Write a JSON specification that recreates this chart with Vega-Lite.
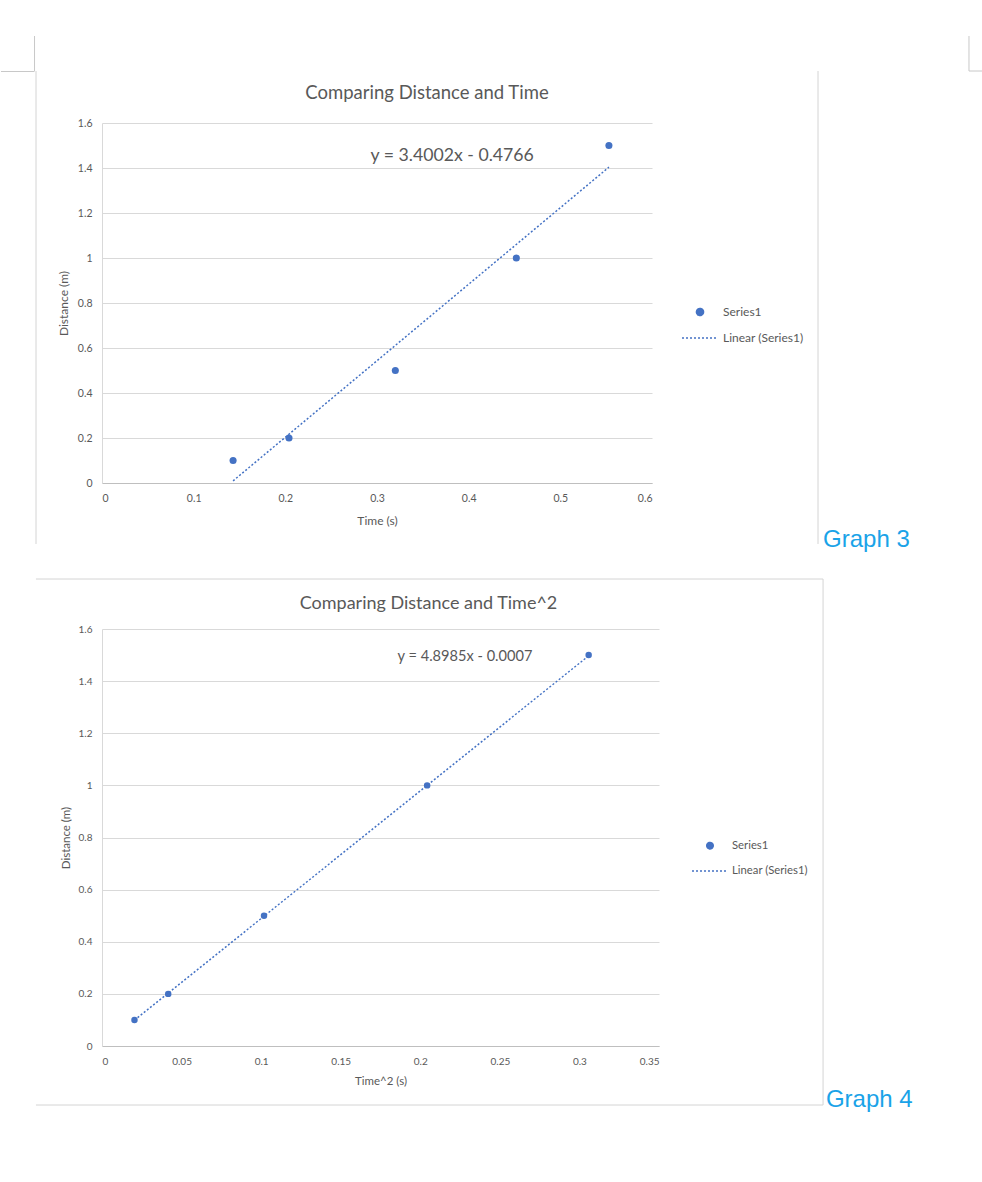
{
  "$schema": "https://vega.github.io/schema/vega-lite/v6.json",
  "padding": {"left": 0, "top": 35, "right": 0, "bottom": 0},
  "background": "white",
  "spacing": 26,
  "config": {
    "font": "Lato",
    "view": {"stroke": null},
    "axis": {
      "labelColor": "#595959", "labelFontSize": 10.5, "labelFont": "Lato",
      "titleColor": "#595959", "titleFontSize": 12, "titleFontWeight": "normal", "titleFont": "Lato",
      "ticks": false, "domainColor": "#d9d9d9", "gridColor": "#d9d9d9", "labelPadding": 10
    },
    "axisX": {"grid": false, "domainColor": "#bfbfbf", "titlePadding": 9},
    "axisY": {"grid": true, "titlePadding": 7},
    "legend": {"symbolOpacity": 1, "symbolStrokeWidth": 1.5, "labelColor": "#595959", "labelFont": "Lato"},
    "title": {"font": "Lato", "fontSize": 18.5, "fontWeight": "normal", "color": "#595959", "anchor": "middle"}
  },
  "datasets": {
    "g3": [
      {"t": 0.143, "d": 0.1, "series": "Series1"},
      {"t": 0.204, "d": 0.2, "series": "Series1"},
      {"t": 0.32, "d": 0.5, "series": "Series1"},
      {"t": 0.452, "d": 1.0, "series": "Series1"},
      {"t": 0.553, "d": 1.5, "series": "Series1"}
    ],
    "g3fit": [
      {"t": 0.143, "d": 0.0096, "series": "Linear (Series1)"},
      {"t": 0.553, "d": 1.4037, "series": "Linear (Series1)"}
    ],
    "g4": [
      {"t2": 0.0204, "d": 0.1, "series": "Series1"},
      {"t2": 0.0416, "d": 0.2, "series": "Series1"},
      {"t2": 0.1018, "d": 0.5, "series": "Series1"},
      {"t2": 0.2043, "d": 1.0, "series": "Series1"},
      {"t2": 0.3058, "d": 1.5, "series": "Series1"}
    ],
    "g4fit": [
      {"t2": 0.0204, "d": 0.0992, "series": "Linear (Series1)"},
      {"t2": 0.3058, "d": 1.4972, "series": "Linear (Series1)"}
    ]
  },
  "resolve": {
    "scale": {"color": "independent", "shape": "independent", "size": "independent", "strokeDash": "independent"},
    "legend": {"color": "independent", "shape": "independent", "size": "independent", "strokeDash": "independent"}
  },
  "vconcat": [
    {
      "width": 550,
      "height": 360,
      "title": {"text": "Comparing Distance and Time", "dx": 50, "offset": -67},
      "layer": [
        {
          "data": {"name": "g3"},
          "mark": {"type": "point", "filled": true, "opacity": 1},
          "encoding": {
            "x": {"field": "t", "type": "quantitative", "title": "Time (s)", "scale": {"domain": [0, 0.6], "nice": false, "zero": false},
                  "axis": {"title": "Time (s)", "values": [0, 0.1, 0.2, 0.3, 0.4, 0.5, 0.6], "format": "~g", "titlePadding": 12}},
            "y": {"field": "d", "type": "quantitative", "title": "Distance (m)", "scale": {"domain": [0, 1.6], "nice": false, "zero": false},
                  "axis": {"title": "Distance (m)", "values": [0, 0.2, 0.4, 0.6, 0.8, 1, 1.2, 1.4, 1.6], "format": "~g"}},
            "color": {"field": "series", "type": "nominal",
                      "scale": {"domain": ["Series1", "Linear (Series1)"], "range": ["#4472C4", "#4472C4"]},
                      "legend": {"title": null, "orient": "none", "direction": "vertical", "legendX": 579, "legendY": 183, "labelOffset": 4, "rowPadding": -13, "labelFontSize": 12}},
            "shape": {"field": "series", "type": "nominal",
                      "scale": {"domain": ["Series1", "Linear (Series1)"], "range": ["circle", "stroke"]},
                      "legend": {"title": null, "orient": "none", "direction": "vertical", "legendX": 579, "legendY": 183, "labelOffset": 4, "rowPadding": -13, "labelFontSize": 12}},
            "size": {"field": "series", "type": "nominal",
                     "scale": {"type": "ordinal", "domain": ["Series1", "Linear (Series1)"], "range": [50, 1296]},
                     "legend": {"title": null, "orient": "none", "direction": "vertical", "legendX": 579, "legendY": 183, "labelOffset": 4, "rowPadding": -13, "labelFontSize": 12}}
          }
        },
        {
          "data": {"name": "g3fit"},
          "mark": {"type": "line", "strokeWidth": 1.5},
          "encoding": {
            "x": {"field": "t", "type": "quantitative", "title": "Time (s)"},
            "y": {"field": "d", "type": "quantitative", "title": "Distance (m)"},
            "color": {"field": "series", "type": "nominal"},
            "strokeDash": {"field": "series", "type": "nominal",
                           "scale": {"domain": ["Series1", "Linear (Series1)"], "range": [[1, 0], [2, 2]]},
                           "legend": {"title": null, "orient": "none", "direction": "vertical", "legendX": 579, "legendY": 183, "labelOffset": 4, "rowPadding": -13, "labelFontSize": 12}}
          }
        },
        {
          "data": {"values": [{"label": "y = 3.4002x - 0.4766"}]},
          "mark": {"type": "text", "fontSize": 17.7, "color": "#595959", "align": "center", "baseline": "middle", "font": "Lato"},
          "encoding": {
            "x": {"datum": 0.382, "type": "quantitative", "title": "Time (s)"},
            "y": {"datum": 1.453, "type": "quantitative", "title": "Distance (m)"},
            "text": {"field": "label"}
          }
        },
        {
          "data": {"values": [{"label": "Graph 3"}]},
          "mark": {"type": "text", "fontSize": 24, "color": "#1AA3E8", "align": "left", "baseline": "alphabetic", "font": "Liberation Sans"},
          "encoding": {
            "x": {"datum": 0.7866, "type": "quantitative", "title": "Time (s)"},
            "y": {"datum": -0.2844, "type": "quantitative", "title": "Distance (m)"},
            "text": {"field": "label"}
          }
        },
        {
          "data": {"values": [{}]},
          "mark": {"type": "rule", "color": "#c8c8c8", "strokeWidth": 1},
          "encoding": {"x": {"datum": -0.0736, "type": "quantitative", "title": "Time (s)"}, "y": {"datum": 1.9867, "type": "quantitative", "title": "Distance (m)"}, "y2": {"datum": 1.8311}}
        },
        {
          "data": {"values": [{}]},
          "mark": {"type": "rule", "color": "#c8c8c8", "strokeWidth": 1},
          "encoding": {"x": {"datum": -0.1102, "type": "quantitative", "title": "Time (s)"}, "x2": {"datum": -0.0736}, "y": {"datum": 1.8289, "type": "quantitative", "title": "Distance (m)"}}
        },
        {
          "data": {"values": [{}]},
          "mark": {"type": "rule", "color": "#d4d4d4", "strokeWidth": 1},
          "encoding": {"x": {"datum": -0.072, "type": "quantitative", "title": "Time (s)"}, "y": {"datum": 1.8311, "type": "quantitative", "title": "Distance (m)"}, "y2": {"datum": -0.2711}}
        },
        {
          "data": {"values": [{}]},
          "mark": {"type": "rule", "color": "#d4d4d4", "strokeWidth": 1},
          "encoding": {"x": {"datum": 0.7811, "type": "quantitative", "title": "Time (s)"}, "y": {"datum": 1.8311, "type": "quantitative", "title": "Distance (m)"}, "y2": {"datum": -0.2711}}
        },
        {
          "data": {"values": [{}]},
          "mark": {"type": "rule", "color": "#c8c8c8", "strokeWidth": 1},
          "encoding": {"x": {"datum": 0.9458, "type": "quantitative", "title": "Time (s)"}, "y": {"datum": 1.9867, "type": "quantitative", "title": "Distance (m)"}, "y2": {"datum": 1.8311}}
        },
        {
          "data": {"values": [{}]},
          "mark": {"type": "rule", "color": "#c8c8c8", "strokeWidth": 1},
          "encoding": {"x": {"datum": 0.9458, "type": "quantitative", "title": "Time (s)"}, "x2": {"datum": 0.9611}, "y": {"datum": 1.8311, "type": "quantitative", "title": "Distance (m)"}}
        }
      ]
    },
    {
      "width": 557,
      "height": 417,
      "title": {"text": "Comparing Distance and Time^2", "dx": 48, "offset": -34, "fontSize": 18},
      "layer": [
        {
          "data": {"name": "g4"},
          "mark": {"type": "point", "filled": true, "opacity": 1},
          "encoding": {
            "x": {"field": "t2", "type": "quantitative", "title": "Time^2 (s)", "scale": {"domain": [0, 0.35], "nice": false, "zero": false},
                  "axis": {"title": "Time^2 (s)", "values": [0, 0.05, 0.1, 0.15, 0.2, 0.25, 0.3, 0.35], "format": "~g", "labelFontSize": 10, "titleFontSize": 11.5}},
            "y": {"field": "d", "type": "quantitative", "title": "Distance (m)", "scale": {"domain": [0, 1.6], "nice": false, "zero": false},
                  "axis": {"title": "Distance (m)", "values": [0, 0.2, 0.4, 0.6, 0.8, 1, 1.2, 1.4, 1.6], "format": "~g", "labelFontSize": 10, "titleFontSize": 11.5}},
            "color": {"field": "series", "type": "nominal",
                      "scale": {"domain": ["Series1", "Linear (Series1)"], "range": ["#4472C4", "#4472C4"]},
                      "legend": {"title": null, "orient": "none", "direction": "vertical", "legendX": 589, "legendY": 211, "labelOffset": 3, "rowPadding": -16, "labelFontSize": 11.3}},
            "shape": {"field": "series", "type": "nominal",
                      "scale": {"domain": ["Series1", "Linear (Series1)"], "range": ["circle", "stroke"]},
                      "legend": {"title": null, "orient": "none", "direction": "vertical", "legendX": 589, "legendY": 211, "labelOffset": 3, "rowPadding": -16, "labelFontSize": 11.3}},
            "size": {"field": "series", "type": "nominal",
                     "scale": {"type": "ordinal", "domain": ["Series1", "Linear (Series1)"], "range": [42, 1296]},
                     "legend": {"title": null, "orient": "none", "direction": "vertical", "legendX": 589, "legendY": 211, "labelOffset": 3, "rowPadding": -16, "labelFontSize": 11.3}}
          }
        },
        {
          "data": {"name": "g4fit"},
          "mark": {"type": "line", "strokeWidth": 1.5},
          "encoding": {
            "x": {"field": "t2", "type": "quantitative", "title": "Time^2 (s)"},
            "y": {"field": "d", "type": "quantitative", "title": "Distance (m)"},
            "color": {"field": "series", "type": "nominal"},
            "strokeDash": {"field": "series", "type": "nominal",
                           "scale": {"domain": ["Series1", "Linear (Series1)"], "range": [[1, 0], [2, 2]]},
                           "legend": {"title": null, "orient": "none", "direction": "vertical", "legendX": 589, "legendY": 211, "labelOffset": 3, "rowPadding": -16, "labelFontSize": 11.3}}
          }
        },
        {
          "data": {"values": [{"label": "y = 4.8985x - 0.0007"}]},
          "mark": {"type": "text", "fontSize": 14.6, "color": "#595959", "align": "center", "baseline": "middle", "font": "Lato"},
          "encoding": {
            "x": {"datum": 0.2281, "type": "quantitative", "title": "Time^2 (s)"},
            "y": {"datum": 1.4926, "type": "quantitative", "title": "Distance (m)"},
            "text": {"field": "label"}
          }
        },
        {
          "data": {"values": [{"label": "Graph 4"}]},
          "mark": {"type": "text", "fontSize": 24, "color": "#1AA3E8", "align": "left", "baseline": "alphabetic", "font": "Liberation Sans"},
          "encoding": {
            "x": {"datum": 0.4549, "type": "quantitative", "title": "Time^2 (s)"},
            "y": {"datum": -0.2341, "type": "quantitative", "title": "Distance (m)"},
            "text": {"field": "label"}
          }
        },
        {
          "data": {"values": [{}]},
          "mark": {"type": "rule", "color": "#d4d4d4", "strokeWidth": 1},
          "encoding": {"x": {"datum": -0.0415, "type": "quantitative", "title": "Time^2 (s)"}, "x2": {"datum": 0.4531}, "y": {"datum": 1.7918, "type": "quantitative", "title": "Distance (m)"}}
        },
        {
          "data": {"values": [{}]},
          "mark": {"type": "rule", "color": "#d4d4d4", "strokeWidth": 1},
          "encoding": {"x": {"datum": -0.0415, "type": "quantitative", "title": "Time^2 (s)"}, "x2": {"datum": 0.4531}, "y": {"datum": -0.2264, "type": "quantitative", "title": "Distance (m)"}}
        },
        {
          "data": {"values": [{}]},
          "mark": {"type": "rule", "color": "#d4d4d4", "strokeWidth": 1},
          "encoding": {"x": {"datum": 0.4531, "type": "quantitative", "title": "Time^2 (s)"}, "y": {"datum": 1.7918, "type": "quantitative", "title": "Distance (m)"}, "y2": {"datum": -0.2264}}
        }
      ]
    }
  ]
}
